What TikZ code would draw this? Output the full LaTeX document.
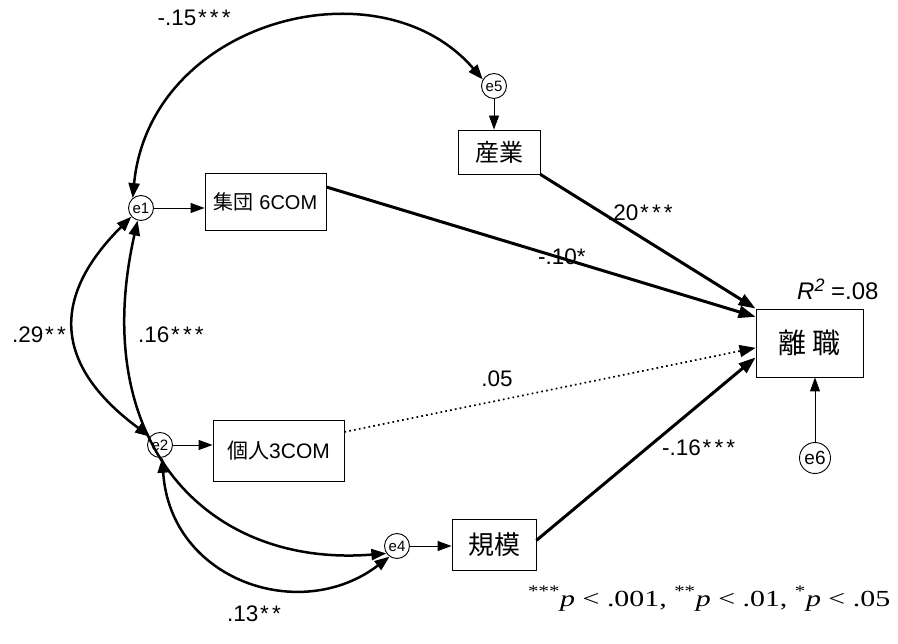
\documentclass[tikz,border=0pt]{standalone}
\usepackage{fontspec}
\setmainfont{Liberation Sans}
\newfontfamily\cjk{Noto Sans CJK JP}
\newfontfamily\notefont{Liberation Serif}
\usetikzlibrary{arrows.meta,calc}

% font size helper and a loosely spaced significance star
\newcommand\fsz[1]{\fontsize{#1}{#1}\selectfont}
\newcommand\sigstar{\kern1.6pt*\kern1.6pt}

\begin{document}
\begin{tikzpicture}[x=1pt,y=-1pt,
  errc/.style={circle,draw,line width=0.9pt,inner sep=0pt,minimum size=25pt,font=\fsz{15}},
  obsbox/.style={draw,line width=0.9pt,inner sep=0pt},
  thinarrow/.style={line width=0.9pt,-{Triangle[length=14pt,width=10pt]}},
  patharrow/.style={line width=3pt,-{Triangle[length=17pt,width=12pt]}},
  dotarrow/.style={line width=1.7pt,dash pattern=on 1.7pt off 3.2pt,-{Triangle[length=16pt,width=12pt]}},
  covarrow/.style={line width=2.5pt,{Triangle[length=15pt,width=11pt]}-{Triangle[length=15pt,width=11pt]}},
  coef/.style={font=\fsz{22.5},inner sep=0pt}
]
\useasboundingbox (0,0) rectangle (898,644);

% error terms
\node[errc] (e5) at (494,86) {e5};
\node[errc] (e1) at (141,208) {e1};
\node[errc] (e2) at (160,445) {e2};
\node[errc] (e4) at (397,546) {e4};
\node[errc,minimum size=31pt,font=\fsz{19}] (e6) at (815,458) {e6};

% observed variables
\node[obsbox,minimum width=82pt,minimum height=44pt,font=\cjk\fsz{24}] (sg) at (499,152) {産業};
\node[obsbox,minimum width=121pt,minimum height=57pt,font=\fsz{20}] (g6) at (265.5,201.5) {{\cjk 集団} 6COM};
\node[obsbox,minimum width=131pt,minimum height=61pt,font=\fsz{21}] (k3) at (278.5,450.5) {{\cjk 個人}3COM};
\node[obsbox,minimum width=84pt,minimum height=51pt,font=\cjk\fsz{26}] (kb) at (494,544.5) {規模};
\node[obsbox,minimum width=107pt,minimum height=68pt,font=\cjk\fsz{28}] (lz) at (809.5,343) {離 職};

% error paths
\draw[thinarrow] (e5) -- (e5 |- sg.north);
\draw[thinarrow] (e1) -- (e1 -| g6.west);
\draw[thinarrow] (e2) -- (e2 -| k3.west);
\draw[thinarrow] (e4) -- (e4 -| kb.west);
\draw[thinarrow] (e6) -- (e6 |- lz.south);

% structural paths
\draw[patharrow] ($(g6.north east)!0.25!(g6.south east)$) -- ($(lz.north west)!0.12!(lz.south west)$);
\draw[patharrow] (sg.south east) -- (lz.north west);
\draw[dotarrow] ($(k3.north east)!0.2!(k3.south east)$) -- ($(lz.north west)!0.57!(lz.south west)$);
\draw[patharrow] ($(kb.north east)!0.42!(kb.south east)$) -- ($(lz.north west)!0.71!(lz.south west)$);

% covariances
\draw[covarrow] (e1.130) .. controls (150,20) and (380,-40) .. (e5.150);
\draw[covarrow] (e1.222) .. controls (45,303) and (60,370) .. (e2.140);
\draw[covarrow] (e1.255) .. controls (88,440) and (205,568) .. (e4.215);
\draw[covarrow] (e2.280) .. controls (170,580) and (300,625) .. (e4.235);

% coefficients
\node[coef] (c15) at (195,18) {-.15\sigstar\sigstar\sigstar};
\node[coef,anchor=west] (c20) at (607,213) {.20\sigstar\sigstar\sigstar};
\node[coef,anchor=west] (c10) at (538,257) {-.10*};
\node[coef] (c05) at (497,379) {.05};
\node[coef,anchor=west] (c16b) at (662,448) {-.16\sigstar\sigstar\sigstar};
\node[coef,anchor=west] (c29) at (12,335) {.29\sigstar\sigstar};
\node[coef,anchor=west] (c16) at (138,335) {.16\sigstar\sigstar\sigstar};
\node[coef,anchor=west] (c13) at (227,614) {.13\sigstar\sigstar};

% explained variance
\node[inner sep=0pt,anchor=west,font=\fsz{24}] (r2) at (797,289) {\textit{R}\raisebox{8pt}{\fsz{18}\itshape 2} =.08};

% significance note
\node[inner sep=0pt,anchor=base west] (note) at (528,606)
  {\scalebox{1.3}[1]{\notefont\fsz{23}\textsuperscript{***}\textit{p} < .001, \textsuperscript{**}\textit{p} < .01, \textsuperscript{*}\textit{p} < .05}};
\end{tikzpicture}
\end{document}
